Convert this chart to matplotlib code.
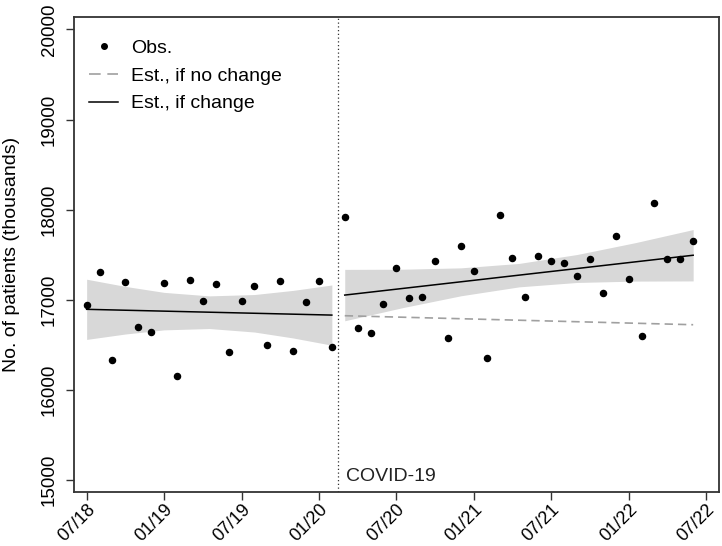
import matplotlib.pyplot as plt
from matplotlib.lines import Line2D

plt.rcParams['font.family'] = ['Liberation Sans', 'DejaVu Sans']

# months since 07/2018
months_pre = list(range(0, 20))
months_post = list(range(20, 48))

obs_pre = [16942, 17312, 16329, 17201, 16701, 16646, 17190, 16154, 17216, 16983,
           17175, 16424, 16987, 17150, 16495, 17212, 16432, 16976, 17205, 16473]
obs_post = [17916, 16684, 16632, 16950, 17356, 17017, 17028, 17434, 16579, 17594,
            17323, 16357, 17941, 17461, 17034, 17490, 17431, 17412, 17261, 17453,
            17076, 17705, 17231, 16595, 18078, 17453, 17453, 17649]

# fitted lines (end points)
fit_pre_x = [0, 19]
fit_pre_y = [16895, 16831]
fit_post_x = [20, 47]
fit_post_y = [17053, 17495]
nochange_x = [20, 47]
nochange_y = [16824, 16724]

# confidence bands
band_pre_x = [0, 3, 6, 9.5, 13, 16, 19]
band_pre_hi = [17229, 17149, 17083, 17044, 17059, 17105, 17165]
band_pre_lo = [16561, 16621, 16667, 16682, 16643, 16577, 16497]
band_post_x = [20, 24.5, 29, 33.5, 38, 42.5, 47]
band_post_hi = [17338, 17340, 17355, 17404, 17503, 17634, 17780]
band_post_lo = [16768, 16914, 17045, 17144, 17193, 17208, 17210]

tick_months = [0, 6, 12, 18, 24, 30, 36, 42, 48]
tick_labels = ['07/18', '01/19', '07/19', '01/20', '07/20', '01/21', '07/21', '01/22', '07/22']
y_ticks = [15000, 16000, 17000, 18000, 19000, 20000]
intervention = 19.5

fig = plt.figure(figsize=(7.22, 5.46), dpi=100)
ax = fig.add_axes([0.1025, 0.0984, 0.8933, 0.8699])

ax.fill_between(band_pre_x, band_pre_lo, band_pre_hi, color='#d8d8d8', lw=0)
ax.fill_between(band_post_x, band_post_lo, band_post_hi, color='#d8d8d8', lw=0)

ax.plot(nochange_x, nochange_y, color='#a0a0a0', lw=1.2, ls=(0, (5, 3)))
ax.plot(fit_pre_x, fit_pre_y, color='black', lw=1.1)
ax.plot(fit_post_x, fit_post_y, color='black', lw=1.1)

ax.plot(months_pre, obs_pre, 'o', color='black', ms=4.4, ls='none')
ax.plot(months_post, obs_post, 'o', color='black', ms=4.4, ls='none')

ax.axvline(intervention, color='#333333', lw=0.9, ls=(0, (1, 2)))
ax.text(intervention + 0.6, 15040, 'COVID-19', fontsize=14, ha='left', va='center',
        color='#222222')

ax.set_xlim(-0.98, 49.0)
ax.set_ylim(14865, 20135)

ax.set_xticks(tick_months)
ax.set_xticklabels(tick_labels, rotation=45, ha='right', va='top',
                   rotation_mode='anchor', fontsize=13)
ax.set_yticks(y_ticks)
ax.set_yticklabels([str(v) for v in y_ticks], rotation=90, va='center', fontsize=13.5)
ax.tick_params(axis='both', length=6, width=1, color='#333333')
ax.tick_params(axis='x', pad=0.5)
ax.tick_params(axis='y', pad=5.5)
ax.set_ylabel('No. of patients (thousands)', fontsize=14)
ax.yaxis.set_label_coords(-0.084, 0.5)

for s in ax.spines.values():
    s.set_linewidth(1.3)
    s.set_color('#333333')

# legend proxies
legend = [
    Line2D([], [], marker='o', color='black', ms=4, ls='none', label='Obs.'),
    Line2D([], [], color='#a0a0a0', lw=1.2, ls=(0, (7, 4)), label='Est., if no change'),
    Line2D([], [], color='black', lw=1.1, label='Est., if change'),
]
ax.legend(handles=legend, loc='upper left', frameon=False, fontsize=14,
          handlelength=1.5, handletextpad=0.65, labelspacing=0.52,
          bbox_to_anchor=(0.0233, 0.9535), borderaxespad=0, borderpad=0)

plt.savefig('out.png', dpi=100)
plt.close()
